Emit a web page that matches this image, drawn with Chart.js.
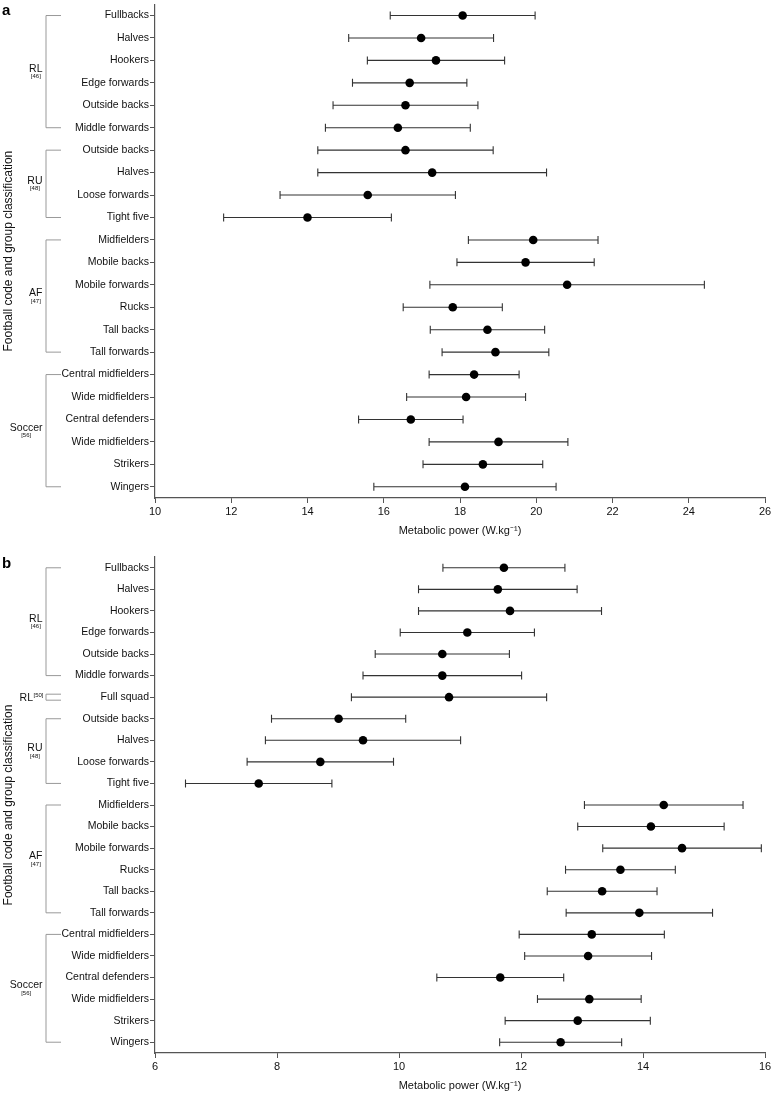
<!DOCTYPE html>
<html lang="en">
<head>
<meta charset="UTF-8">
<title>Metabolic power by football code and position</title>
<script src="https://cdn.jsdelivr.net/npm/chart.js"></script>
<style>
  body { margin: 0; background: #fff; }
  .panel { position: absolute; left: 0; width: 771px; }
  #panelA { top: 0; height: 545px; }
  #panelB { top: 548px; height: 546px; }
</style>
</head>
<body>
<div class="panel" id="panelA"><canvas id="chartA"></canvas></div>
<div class="panel" id="panelB"><canvas id="chartB"></canvas></div>
<script>
// ---- Panel a ----
const positionsA = ['Fullbacks', 'Halves', 'Hookers', 'Edge forwards', 'Outside backs', 'Middle forwards',
  'Outside backs', 'Halves', 'Loose forwards', 'Tight five',
  'Midfielders', 'Mobile backs', 'Mobile forwards', 'Rucks', 'Tall backs', 'Tall forwards',
  'Central midfielders', 'Wide midfielders', 'Central defenders', 'Wide midfielders', 'Strikers', 'Wingers'];
const meansA = [18.07, 16.98, 17.37, 16.68, 16.57, 16.37,
  16.57, 17.27, 15.58, 14.0,
  19.92, 19.72, 20.81, 17.81, 18.72, 18.93,
  18.37, 18.16, 16.71, 19.01, 18.60, 18.13];
const sdA = [1.9, 1.9, 1.8, 1.5, 1.9, 1.9,
  2.3, 3.0, 2.3, 2.2,
  1.7, 1.8, 3.6, 1.3, 1.5, 1.4,
  1.18, 1.56, 1.37, 1.82, 1.57, 2.39];
const xTicksA = [10, 12, 14, 16, 18, 20, 22, 24, 26];
const groupNamesA = ['RL', 'RU', 'AF', 'Soccer'];
const groupRefsA = ['[46]', '[48]', '[47]', '[56]'];
const groupStartA = [0, 6, 10, 16];
const groupEndA = [5, 9, 15, 21];

// ---- Panel b ----
const positionsB = ['Fullbacks', 'Halves', 'Hookers', 'Edge forwards', 'Outside backs', 'Middle forwards',
  'Full squad',
  'Outside backs', 'Halves', 'Loose forwards', 'Tight five',
  'Midfielders', 'Mobile backs', 'Mobile forwards', 'Rucks', 'Tall backs', 'Tall forwards',
  'Central midfielders', 'Wide midfielders', 'Central defenders', 'Wide midfielders', 'Strikers', 'Wingers'];
const meansB = [11.72, 11.62, 11.82, 11.12, 10.71, 10.71,
  10.82,
  9.01, 9.41, 8.71, 7.70,
  14.34, 14.13, 14.64, 13.63, 13.33, 13.94,
  13.16, 13.10, 11.66, 13.12, 12.93, 12.65];
const sdB = [1.0, 1.3, 1.5, 1.1, 1.1, 1.3,
  1.6,
  1.1, 1.6, 1.2, 1.2,
  1.3, 1.2, 1.3, 0.9, 0.9, 1.2,
  1.19, 1.04, 1.04, 0.85, 1.19, 1.0];
const xTicksB = [6, 8, 10, 12, 14, 16];
const groupNamesB = ['RL', 'RL', 'RU', 'AF', 'Soccer'];
const groupRefsB = ['[46]', '[50]', '[48]', '[47]', '[56]'];
const groupStartB = [0, 6, 7, 11, 17];
const groupEndB = [5, 6, 10, 16, 22];

const FONT = "'Liberation Sans', Arial, sans-serif";
Chart.defaults.font.family = FONT;
Chart.defaults.color = '#111';

// whiskers under the dots
const errorBars = {
  id: 'errorBars',
  beforeDatasetsDraw(chart) {
    const { ctx, scales: { x, y } } = chart;
    const ds = chart.data.datasets[0];
    ctx.save();
    ctx.strokeStyle = '#333';
    ctx.lineWidth = 1.1;
    ds.data.forEach((m, i) => {
      const py = y.getPixelForValue(i);
      const x0 = x.getPixelForValue(m - ds.sd[i]);
      const x1 = x.getPixelForValue(m + ds.sd[i]);
      ctx.beginPath();
      ctx.moveTo(x0, py); ctx.lineTo(x1, py);
      ctx.moveTo(x0, py - 4); ctx.lineTo(x0, py + 4);
      ctx.moveTo(x1, py - 4); ctx.lineTo(x1, py + 4);
      ctx.stroke();
    });
    ctx.restore();
  }
};

// group brackets, code labels and panel letter
function makeBrackets(names, refs, starts, ends, letter, letterY) {
  return {
    id: 'brackets',
    afterDraw(chart) {
      const { ctx, scales: { y } } = chart;
      ctx.save();
      ctx.strokeStyle = '#999';
      ctx.lineWidth = 1;
      ctx.fillStyle = '#111';
      names.forEach((name, g) => {
        let top = y.getPixelForValue(starts[g]);
        let bot = y.getPixelForValue(ends[g]);
        const single = starts[g] === ends[g];
        if (single) { top -= 3; bot += 3; }
        ctx.beginPath();
        ctx.moveTo(61, top); ctx.lineTo(46, top);
        ctx.lineTo(46, bot); ctx.lineTo(61, bot);
        ctx.stroke();
        const mid = (top + bot) / 2;
        ctx.textBaseline = 'middle';
        if (single) {
          ctx.font = '10.5px ' + FONT;
          ctx.textAlign = 'right';
          ctx.fillText(name, 33, mid + 1);
          ctx.font = '6px ' + FONT;
          ctx.textAlign = 'left';
          ctx.fillText(refs[g], 33.5, mid - 2);
        } else {
          ctx.font = '10.5px ' + FONT;
          ctx.textAlign = 'right';
          ctx.fillText(name, 42.5, mid - 3);
          const w = ctx.measureText(name).width;
          ctx.font = '6px ' + FONT;
          ctx.textAlign = 'center';
          ctx.fillText(refs[g], 42.5 - w / 2, mid + 5);
        }
      });
      ctx.font = 'bold 15px ' + FONT;
      ctx.textAlign = 'left';
      ctx.textBaseline = 'alphabetic';
      ctx.fillStyle = '#000';
      ctx.fillText(letter, 2, letterY);
      ctx.restore();
    }
  };
}

function buildChart(id, labels, means, sd, xTicks, axisH, padTop, titlePad, brackets) {
  return new Chart(document.getElementById(id), {
    type: 'line',
    data: {
      labels: labels,
      datasets: [{
        data: means,
        sd: sd,
        showLine: false,
        pointRadius: 4.3,
        pointHoverRadius: 4.3,
        pointBackgroundColor: '#000',
        pointBorderColor: '#000',
        pointBorderWidth: 0
      }]
    },
    options: {
      indexAxis: 'y',
      responsive: true,
      maintainAspectRatio: false,
      animation: false,
      layout: { padding: { top: padTop, right: 6, left: 0, bottom: 0 } },
      plugins: { legend: { display: false }, tooltip: { enabled: false } },
      scales: {
        x: {
          type: 'linear',
          position: 'bottom',
          min: xTicks[0],
          max: xTicks[xTicks.length - 1],
          afterBuildTicks: s => { s.ticks = xTicks.map(v => ({ value: v })); },
          afterFit: s => { s.height = axisH; s.paddingRight = 0; s.paddingLeft = 0; },
          border: { color: '#555', width: 1.2 },
          grid: { drawOnChartArea: false, tickLength: 5, color: '#555' },
          ticks: { font: { size: 11 }, padding: 2, color: '#111' },
          title: {
            display: true,
            text: 'Metabolic power (W.kg\u207B\u00B9)',
            font: { size: 11 },
            color: '#111',
            padding: { top: 0, bottom: titlePad }
          }
        },
        y: {
          type: 'category',
          offset: true,
          afterFit: s => { s.width = 155; s.paddingTop = 0; s.paddingBottom = 0; },
          border: { color: '#555', width: 1.2 },
          grid: { drawOnChartArea: false, tickLength: 5, color: '#555' },
          ticks: { font: { size: 10.5 }, padding: 1, color: '#111', autoSkip: false },
          title: {
            display: true,
            text: 'Football code and group classification',
            font: { size: 12 },
            color: '#111',
            padding: { top: 1, bottom: 0 }
          }
        }
      }
    },
    plugins: [errorBars, brackets]
  });
}

buildChart('chartA', positionsA, meansA, sdA, xTicksA, 47, 4, 7,
  makeBrackets(groupNamesA, groupRefsA, groupStartA, groupEndA, 'a', 15));
buildChart('chartB', positionsB, meansB, sdB, xTicksB, 41, 9, 1.5,
  makeBrackets(groupNamesB, groupRefsB, groupStartB, groupEndB, 'b', 20));
</script>
</body>
</html>
